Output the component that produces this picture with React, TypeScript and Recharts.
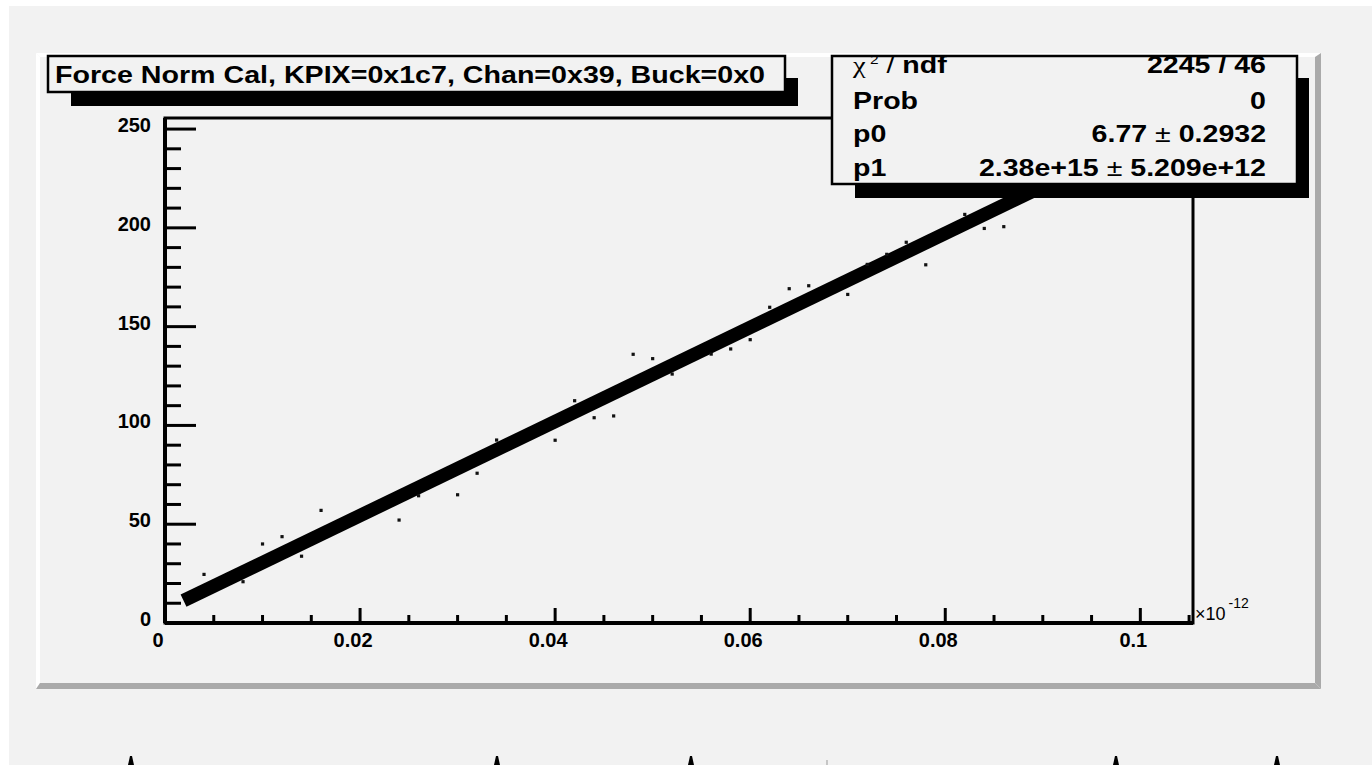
import React from 'react';
import { ScatterChart, Scatter, XAxis, YAxis, ReferenceArea } from 'recharts';

// ---- data ----
const xMajorTicks = [0, 0.02, 0.04, 0.06, 0.08, 0.1];
const xMajorLabels = ['0', '0.02', '0.04', '0.06', '0.08', '0.1'];
const xMinorTicks = [0.005, 0.01, 0.015, 0.025, 0.03, 0.035, 0.045, 0.05, 0.055, 0.065, 0.07, 0.075, 0.085, 0.09, 0.095, 0.105];
const yMajorTicks = [0, 50, 100, 150, 200, 250];
const yMajorLabels = ['0', '50', '100', '150', '200', '250'];
const yMinorTicks = [10, 20, 30, 40, 60, 70, 80, 90, 110, 120, 130, 140, 160, 170, 180, 190, 210, 220, 230, 240];
const xDomain = [0, 0.1054];
const yDomain = [0, 255.6];

// dense calibration band (drawn as the fitted straight band)
const bandPoints = [
  { x: 0.0019, y: 11.3 },
  { x: 0.1, y: 244.8 },
];

// isolated points off the band
const outlierX = [0.004, 0.008, 0.010, 0.012, 0.014, 0.016, 0.024, 0.026, 0.030, 0.032, 0.034, 0.040, 0.042, 0.044, 0.046, 0.048, 0.050, 0.052, 0.056, 0.058, 0.060, 0.062, 0.064, 0.066, 0.070, 0.072, 0.074, 0.076, 0.078, 0.082, 0.084, 0.086];
const outlierY = [24.6, 20.9, 40.0, 43.7, 33.8, 57.0, 52.1, 64.4, 64.9, 75.8, 92.6, 92.5, 112.5, 103.9, 104.8, 136.0, 133.8, 126.0, 136.1, 138.7, 143.4, 159.8, 169.2, 170.7, 166.3, 181.5, 186.6, 192.7, 181.3, 206.8, 199.7, 200.6];
const outliers = outlierX.map((x, i) => ({ x, y: outlierY[i] }));

const titleText = 'Force Norm Cal, KPIX=0x1c7, Chan=0x39, Buck=0x0';
const statLabels = ['Prob', 'p0', 'p1'];
const statValues = [['0', ''], ['6.77', '0.2932'], ['2.38e+15', '5.209e+12']];
const chiValue = '2245 / 46';

const FONT = "'Liberation Sans', Arial, Helvetica, sans-serif";
const BG = '#f2f2f2';

const xTicks = [...xMajorTicks, ...xMinorTicks].sort((a, b) => a - b);
const yTicks = [...yMajorTicks, ...yMinorTicks].sort((a, b) => a - b);

const XTick = (props: any) => {
  const { x, y, payload } = props;
  const idx = xMajorTicks.findIndex((t) => Math.abs(t - payload.value) < 1e-9);
  const major = idx >= 0;
  return (
    <g>
      <line x1={x} x2={x} y1={y} y2={y - (major ? 15 : 8)} stroke="#000" strokeWidth={3} />
      {major && (
        <text x={x - 7} y={y + 23.5} textAnchor="middle" fontFamily={FONT} fontWeight="bold" fontSize={20} fill="#000">
          {xMajorLabels[idx]}
        </text>
      )}
    </g>
  );
};

const YTick = (props: any) => {
  const { x, y, payload } = props;
  const idx = yMajorTicks.findIndex((t) => Math.abs(t - payload.value) < 1e-9);
  const major = idx >= 0;
  return (
    <g>
      <line x1={x} x2={x + (major ? 31 : 16)} y1={y} y2={y} stroke="#000" strokeWidth={3} />
      {major && (
        <text x={x - 14} y={y + 3} textAnchor="end" fontFamily={FONT} fontWeight="bold" fontSize={20} fill="#000">
          {yMajorLabels[idx]}
        </text>
      )}
    </g>
  );
};

const Dot = (p: any) => <rect x={p.cx - 1.6} y={p.cy - 1.6} width={3.2} height={3.2} fill="#111" />;
const NoShape = () => <g />;

const statBaselines = [73, 109, 142, 176];
const statLeft = 853;
const statRight = 1266;
const SX = 1.19;

export default function App() {
  return (
    <div style={{ position: 'absolute', left: 0, top: 0, width: 1372, height: 765, background: '#fff', overflow: 'hidden' }}>
      {/* underlay: canvas and raised frame */}
      <svg style={{ position: 'absolute', left: 0, top: 0 }} width={1372} height={765}>
        <rect x={9} y={6} width={1363} height={759} fill={BG} />
        {/* top/left highlight */}
        <polygon points="36,53 1321,53 1317,57 40,57" fill="#ffffff" />
        <polygon points="36,53 40,57 40,683 36,689" fill="#ffffff" />
        {/* bottom/right shadow */}
        <polygon points="36,689 1321,689 1315,683 40,683" fill="#aaaaaa" />
        <polygon points="1321,53 1321,689 1315,683 1315,57" fill="#aaaaaa" />
        {/* small cut-off marks at the very bottom */}
        {[131, 497, 691, 1116, 1277].map((mx) => (
          <polygon key={mx} points={`${mx - 1},756 ${mx + 1},756 ${mx + 3},765 ${mx - 3},765`} fill="#000" />
        ))}
        <line x1={827} x2={827} y1={760} y2={765} stroke="#999" strokeWidth={1} />
      </svg>

      <div style={{ position: 'absolute', left: 0, top: 0 }}>
        <ScatterChart width={1372} height={765} margin={{ top: 118, right: 179, bottom: 112, left: 105 }}>
          <XAxis
            type="number"
            dataKey="x"
            domain={xDomain}
            ticks={xTicks}
            interval={0}
            tickLine={false}
            tickSize={0}
            tickMargin={0}
            height={30}
            axisLine={{ stroke: '#000', strokeWidth: 4 }}
            tick={<XTick />}
            allowDataOverflow
          />
          <YAxis
            type="number"
            dataKey="y"
            domain={yDomain}
            ticks={yTicks}
            interval={0}
            tickLine={false}
            tickSize={0}
            tickMargin={0}
            width={60}
            axisLine={{ stroke: '#000', strokeWidth: 4 }}
            tick={<YTick />}
            allowDataOverflow
          />
          <ReferenceArea x1={xDomain[0]} x2={xDomain[1]} y1={yDomain[0]} y2={yDomain[1]} fill="none" stroke="#000" strokeWidth={3} fillOpacity={0} />
          <Scatter
            data={bandPoints}
            line={{ stroke: '#000', strokeWidth: 13.5, strokeLinecap: 'butt' }}
            shape={NoShape}
            isAnimationActive={false}
          />
          <Scatter data={outliers} shape={Dot} isAnimationActive={false} />
        </ScatterChart>
      </div>

      {/* overlay: title box, stats box, exponent */}
      <svg style={{ position: 'absolute', left: 0, top: 0, pointerEvents: 'none' }} width={1372} height={765}>
        <defs>
          <clipPath id="statsClip">
            <rect x={833} y={57} width={463} height={126} />
          </clipPath>
        </defs>
        {/* title */}
        <rect x={71} y={78} width={727} height={28} fill="#000" />
        <rect x={48} y={56} width={737} height={36} fill={BG} stroke="#000" strokeWidth={2.5} />
        <text x={55} y={83} fontFamily={FONT} fontWeight="bold" fontSize={24.5} fill="#000" textLength={710} lengthAdjust="spacingAndGlyphs">
          {titleText}
        </text>

        {/* stats */}
        <rect x={855} y={78} width={454} height={120} fill="#000" />
        <rect x={832} y={56} width={465} height={128} fill={BG} stroke="#000" strokeWidth={2.5} />
        <g clipPath="url(#statsClip)" fontFamily={FONT} fontSize={24} fill="#000">
          <text transform={`translate(${statLeft},${statBaselines[0]}) scale(${SX},1)`}>
            <tspan fontFamily="'Liberation Serif', serif" fontWeight="normal">χ</tspan>
            <tspan fontSize={13} dy={-9} fontWeight="normal"> 2</tspan>
            <tspan dy={9} fontWeight="normal"> / </tspan>
            <tspan fontWeight="bold">ndf</tspan>
          </text>
          <text transform={`translate(${statRight},${statBaselines[0]}) scale(${SX},1)`} textAnchor="end" fontWeight="bold">
            {chiValue}
          </text>
          {statLabels.map((lab, i) => (
            <g key={lab}>
              <text transform={`translate(${statLeft},${statBaselines[i + 1]}) scale(${SX},1)`} fontWeight="bold">
                {lab}
              </text>
              <text transform={`translate(${statRight},${statBaselines[i + 1]}) scale(${SX},1)`} textAnchor="end" fontWeight="bold">
                {statValues[i][1] === '' ? (
                  statValues[i][0]
                ) : (
                  <>
                    <tspan>{statValues[i][0]}</tspan>
                    <tspan fontWeight="normal"> ± </tspan>
                    <tspan>{' ' + statValues[i][1]}</tspan>
                  </>
                )}
              </text>
            </g>
          ))}
        </g>

        {/* axis exponent */}
        <text x={1195} y={620} fontFamily={FONT} fontSize={18} fill="#000">
          ×10
          <tspan fontSize={14} dx={3} dy={-12}>-12</tspan>
        </text>
      </svg>
    </div>
  );
}
